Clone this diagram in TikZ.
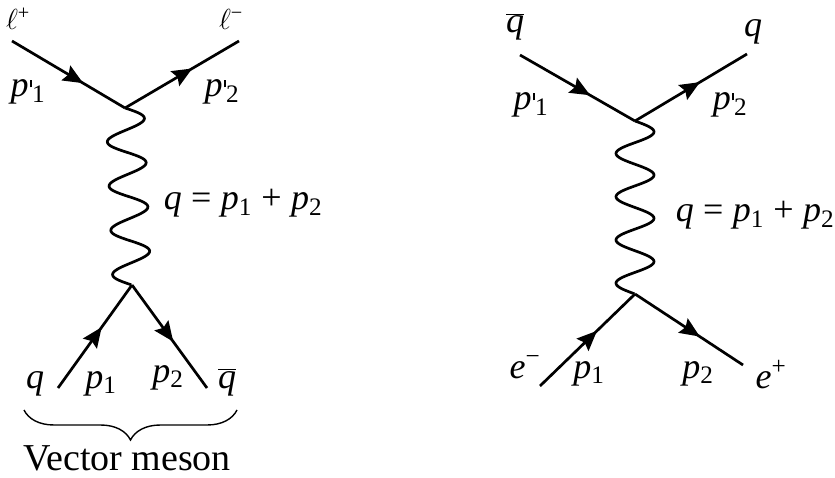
\documentclass[tikz,border=0pt]{standalone}
\usepackage{fix-cm}
\usepackage{fontspec}
\setmainfont{Liberation Serif}
\usetikzlibrary{arrows.meta,calc,decorations.pathreplacing,decorations.markings}
\newcommand{\mv}[1]{\textit{#1}}
\newcommand{\qbar}{$\overline{\hbox{\itshape q}}$}
\newcommand{\prm}{\kern0.04em\rule[0.27em]{0.055em}{0.2em}}
\newcommand{\sep}{\hspace{0.26em}}
\newcommand{\eqlabel}{\mv{q}\sep=\sep\mv{p}\textsubscript{1}\sep+\sep\mv{p}\textsubscript{2}}
\begin{document}
\begin{tikzpicture}[x=1pt,y=-1pt,
  fermion/.style={line width=2.7pt, postaction={decorate},
    decoration={markings, mark=at position #1 with {\arrow{Stealth[length=20pt,width=17pt,inset=3pt]}}}},
  fermion/.default=0.6,
  photon/.style={line width=2.7pt, to path={let \p1=(\tikztostart), \p2=(\tikztotarget),
    \n1={veclen(\x2-\x1,\y2-\y1)} in
    plot[domain=0:1, samples=161, variable=\t, smooth]
    ({\x1+\t*(\x2-\x1)-19*sin(1440*\t)*(\y2-\y1)/\n1},
     {\y1+\t*(\y2-\y1)+19*sin(1440*\t)*(\x2-\x1)/\n1})}},
  lbl/.style={font=\fontsize{36}{42}\selectfont, inner sep=0pt, anchor=base},
  lepton/.style={lbl, font=\fontsize{29}{34}\selectfont},
  bracestyle/.style={line width=1.4pt, decorate, decoration={brace, mirror, amplitude=30pt}}]
\useasboundingbox (0,0) rectangle (835,478);
% ---- left diagram ----
\coordinate (La) at (12,41);
\coordinate (Lv1) at (125,108);
\coordinate (Lb) at (239,41);
\coordinate (Lv2) at (132,285);
\coordinate (Lc) at (58,388);
\coordinate (Ld) at (207,388);
\draw[fermion=0.63] (La) -- (Lv1);
\draw[fermion=0.59] (Lv1) -- (Lb);
\draw[photon] (Lv1) to (Lv2);
\draw[fermion=0.59] (Lc) -- (Lv2);
\draw[fermion=0.55] (Lv2) -- (Ld);
\node[lepton] (Llp) at (18,30) {$\ell$\textsuperscript{+}};
\node[lepton] (Llm) at (231,30) {$\ell$\textsuperscript{−}};
\node[lbl] (Lp1p) at (28,97) {\mv{p}\prm\textsubscript{1}};
\node[lbl] (Lp2p) at (222,97) {\mv{p}\prm\textsubscript{2}};
\node[lbl] (Leq) at (243,210) {\eqlabel};
\node[lbl] (Lq) at (35,388) {\mv{q}};
\node[lbl] (Lp1) at (101,388) {\mv{p}\textsubscript{1}};
\node[lbl] (Lp2) at (168,382) {\mv{p}\textsubscript{2}};
\node[lbl] (Lqb) at (227,388) {\qbar};
\coordinate (Bl) at (24,410);
\coordinate (Br) at (237,410);
\draw[bracestyle] (Bl) -- (Br);
\node[lbl, font=\fontsize{38}{44}\selectfont] (Lvm) at (127,470) {Vector meson};
% ---- right diagram ----
\coordinate (Ra) at (520,55);
\coordinate (Rv1) at (635,121);
\coordinate (Rb) at (747,54);
\coordinate (Rv2) at (635,294);
\coordinate (Rc) at (540,386);
\coordinate (Rd) at (743,365);
\draw[fermion=0.61] (Ra) -- (Rv1);
\draw[fermion=0.58] (Rv1) -- (Rb);
\draw[photon] (Rv1) to (Rv2);
\draw[fermion=0.6] (Rc) -- (Rv2);
\draw[fermion=0.6] (Rv2) -- (Rd);
\node[lbl] (Rqb) at (515,33) {\qbar};
\node[lbl] (Rq) at (753,37) {\mv{q}};
\node[lbl] (Rp1p) at (531,110) {\mv{p}\prm\textsubscript{1}};
\node[lbl] (Rp2p) at (730,110) {\mv{p}\prm\textsubscript{2}};
\node[lbl] (Req) at (755,222) {\eqlabel};
\node[lbl] (Rem) at (525,378) {\mv{e}\textsuperscript{−}};
\node[lbl] (Rp1) at (589,378) {\mv{p}\textsubscript{1}};
\node[lbl] (Rp2) at (698,378) {\mv{p}\textsubscript{2}};
\node[lbl] (Rep) at (771,388) {\mv{e}\textsuperscript{+}};
\end{tikzpicture}
\end{document}
